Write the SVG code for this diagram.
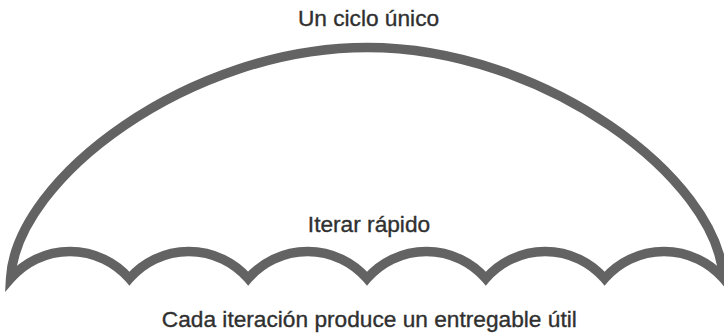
<svg xmlns="http://www.w3.org/2000/svg" width="724" height="335" viewBox="0 0 724 335">
<style>
.lbl{font-family:"Liberation Sans",Arial,sans-serif;font-size:22.7px;fill:#303030;stroke:#303030;stroke-width:0.35;text-anchor:middle}
.shape{fill:none;stroke:#636363;stroke-width:9.5;stroke-linejoin:miter;stroke-miterlimit:10}
</style>
<rect width="724" height="335" fill="#fff"/>
<g id="umbrella">
<path class="shape" d="M10.6,278.5 C16,178 190,47.5 367,47.5 C544,47.5 718,178 723.4,278.5 A78.7,78.7 0 0 0 604.6,278.5 A78.7,78.7 0 0 0 485.8,278.5 A78.7,78.7 0 0 0 367,278.5 A78.7,78.7 0 0 0 248.2,278.5 A78.7,78.7 0 0 0 129.4,278.5 A78.7,78.7 0 0 0 10.6,278.5 Z"/>
</g>
<g id="label-top"><text class="lbl" x="368.5" y="26">Un ciclo único</text></g>
<g id="label-middle"><text class="lbl" x="369" y="231.5">Iterar rápido</text></g>
<g id="label-bottom"><text class="lbl" x="369.3" y="326.5">Cada iteración produce un entregable útil</text></g>
</svg>
